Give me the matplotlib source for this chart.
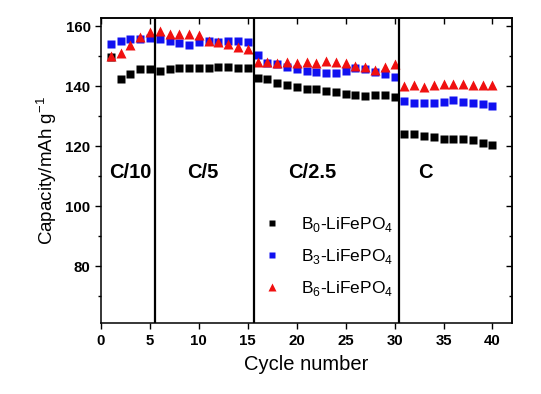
import matplotlib
matplotlib.use('Agg')
import matplotlib.pyplot as plt
import matplotlib.ticker as ticker

plt.rcParams['font.family'] = ['Liberation Sans', 'DejaVu Sans']
plt.rcParams['mathtext.fontset'] = 'custom'
plt.rcParams['mathtext.rm'] = 'Liberation Sans'

cycles = list(range(1, 41))
b0 = [149.8, 142.4, 144.0, 145.7, 145.7, 145.0, 145.7, 146.2, 146.2, 146.1,
      146.1, 146.5, 146.5, 146.0, 146.0, 142.6, 142.4, 141.2, 140.4, 139.6,
      139.1, 139.1, 138.5, 138.0, 137.4, 137.0, 136.7, 137.0, 137.0, 136.3,
      124.1, 124.1, 123.4, 123.0, 122.3, 122.3, 122.3, 122.1, 121.2, 120.4]
b3 = [153.9, 155.2, 155.6, 155.6, 155.9, 155.7, 155.2, 154.5, 153.6, 154.6,
      155.2, 154.8, 155.2, 155.2, 154.8, 150.4, 147.6, 147.4, 146.3, 145.7,
      145.2, 144.6, 144.5, 144.5, 145.0, 145.9, 145.7, 144.8, 144.0, 143.2,
      135.2, 134.5, 134.3, 134.3, 134.8, 135.4, 134.8, 134.3, 134.0, 133.4]
b6 = [150.0, 151.0, 153.7, 156.4, 158.1, 158.3, 157.3, 157.5, 157.5, 156.9,
      155.0, 154.6, 153.9, 153.1, 152.4, 147.9, 147.9, 147.6, 148.1, 147.8,
      148.1, 147.8, 148.5, 148.1, 147.8, 146.8, 146.3, 145.4, 146.3, 147.4,
      140.1, 140.5, 139.8, 140.3, 140.7, 140.7, 140.7, 140.3, 140.3, 140.3]
rate_labels = ['C/10', 'C/5', 'C/2.5', 'C']
rate_x = [3.0, 10.4, 21.6, 33.1]
rate_bounds = [5.5, 15.6, 30.5]

fig = plt.figure(figsize=(5.41, 3.94), dpi=100)
ax = fig.add_axes([0.1867, 0.1794, 0.7597, 0.7749])

ax.plot(cycles, b0, 's', color='black', ms=5.8, mec='none', label=r'B$_0$-LiFePO$_4$')
ax.plot(cycles, b3, 's', color='#1010f0', ms=5.8, mec='none', label=r'B$_3$-LiFePO$_4$')
ax.plot(cycles, b6, '^', color='#f01010', ms=7.3, mec='none', label=r'B$_6$-LiFePO$_4$')

for b in rate_bounds:
    ax.axvline(b, color='black', lw=1.6)
for lab, xx in zip(rate_labels, rate_x):
    ax.text(xx, 111.2, lab, ha='center', va='center', fontsize=14.5, fontweight='bold')

ax.set_xlim(0, 42)
ax.set_ylim(61, 162.7)
ax.xaxis.set_major_locator(ticker.MultipleLocator(5))
ax.yaxis.set_major_locator(ticker.FixedLocator([80, 100, 120, 140, 160]))
ax.yaxis.set_minor_locator(ticker.FixedLocator([70, 90, 110, 130, 150]))
ax.tick_params(axis='both', which='both', direction='out', labelsize=10.8)
ax.tick_params(axis='both', which='major', length=4, width=1)
ax.tick_params(axis='both', which='minor', length=2.5, width=1)
for lab in ax.get_xticklabels() + ax.get_yticklabels():
    lab.set_fontweight('bold')

# inward ticks on top and right
axt = ax.secondary_xaxis('top')
axt.xaxis.set_major_locator(ticker.MultipleLocator(5))
axt.tick_params(direction='in', length=4, width=1, labeltop=False)
axr = ax.secondary_yaxis('right')
axr.yaxis.set_major_locator(ticker.FixedLocator([80, 100, 120, 140, 160]))
axr.yaxis.set_minor_locator(ticker.FixedLocator([70, 90, 110, 130, 150]))
axr.tick_params(which='both', direction='in', width=1, labelright=False)
axr.tick_params(which='major', length=4)
axr.tick_params(which='minor', length=2.5)

ax.set_xlabel('Cycle number', fontsize=14.5, labelpad=5)
ax.set_ylabel(r'Capacity/mAh g$^{\mathregular{-1}}$', fontsize=13.5, labelpad=5)

ax.legend(loc='center left', bbox_to_anchor=(0.335, 0.22), frameon=False,
          fontsize=12.5, handletextpad=0.7, labelspacing=0.75, markerscale=0.75)

for s in ax.spines.values():
    s.set_linewidth(1.1)
for a in (axt, axr):
    for s in a.spines.values():
        s.set_linewidth(1.1)

plt.savefig('out.png', dpi=100)
